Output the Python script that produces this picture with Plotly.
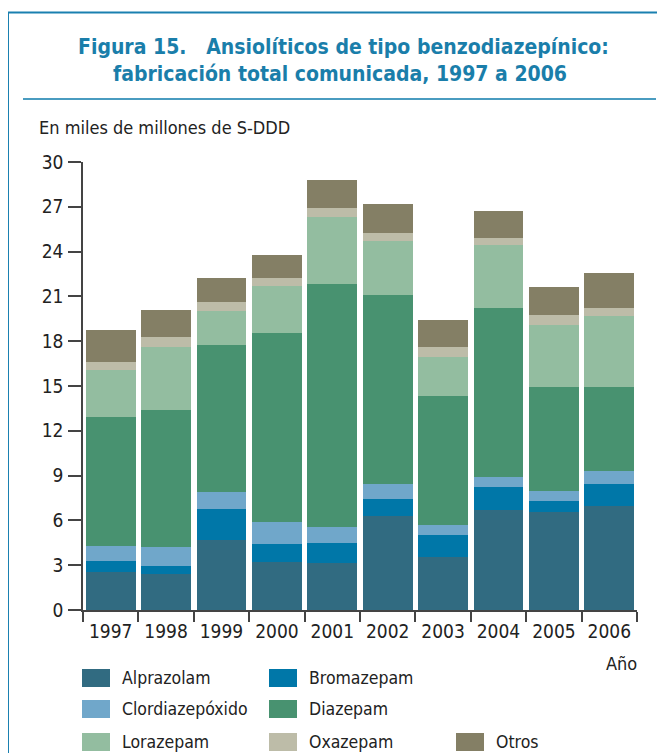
import plotly.graph_objects as go

years = ["1997", "1998", "1999", "2000", "2001", "2002", "2003", "2004", "2005", "2006"]
series_names = ["Alprazolam", "Bromazepam", "Clordiazepóxido", "Diazepam", "Lorazepam", "Oxazepam", "Otros"]
alprazolam = [2.55, 2.39, 4.69, 3.21, 3.12, 6.32, 3.55, 6.72, 6.59, 6.99]
bromazepam = [0.73, 0.56, 2.07, 1.21, 1.37, 1.11, 1.47, 1.52, 0.71, 1.45]
clordiazepoxido = [1.01, 1.27, 1.14, 1.47, 1.07, 1.01, 0.67, 0.67, 0.67, 0.87]
diazepam = [8.64, 9.18, 9.85, 12.66, 16.28, 12.66, 8.64, 11.32, 6.97, 5.63]
lorazepam = [3.14, 4.20, 2.25, 3.15, 4.48, 3.62, 2.62, 4.22, 4.15, 4.75]
oxazepam = [0.53, 0.68, 0.63, 0.54, 0.60, 0.53, 0.67, 0.47, 0.67, 0.54]
otros = [2.15, 1.81, 1.61, 1.54, 1.88, 1.94, 1.80, 1.80, 1.87, 2.34]
y_ticks = [0, 3, 6, 9, 12, 15, 18, 21, 24, 27, 30]

series_values = [alprazolam, bromazepam, clordiazepoxido, diazepam, lorazepam, oxazepam, otros]
colors = ["#316B81", "#0077A8", "#70A7CA", "#489270", "#93BDA0", "#BDBCA8", "#847F65"]

# page body has an 8px margin, so the figure is sized/offset to fill the 665x753 window
OFF = 8
W, H = 665 - OFF, 753 - OFF
# plot area in window pixels
SX0, SX1, SY0, SY1 = 83, 637, 162, 610
L, R, T, B = SX0 - OFF, W - (SX1 - OFF), SY0 - OFF, H - (SY1 - OFF)
PW, PH = SX1 - SX0, SY1 - SY0

def px_x(x):
    return (x - SX0) / PW

def px_y(y):
    return (SY1 - y) / PH

NARROW = "Liberation Sans Narrow, DejaVu Sans Condensed, Arial Narrow, sans-serif"
TITLE_C = "#1A7EAA"
TXT = "#222222"

fig = go.Figure()
for name, vals, col in zip(series_names, series_values, colors):
    fig.add_trace(go.Bar(x=years, y=vals, name=name, marker=dict(color=col, line=dict(width=0)),
                         showlegend=False))

shapes = []
ann = []
# frame
line_c = "#1A80B0"
shapes.append(dict(type="line", xref="paper", yref="paper", x0=px_x(8), x1=px_x(8), y0=px_y(12), y1=px_y(760),
                   line=dict(color=line_c, width=2)))
shapes.append(dict(type="line", xref="paper", yref="paper", x0=px_x(8), x1=px_x(670), y0=px_y(12.5), y1=px_y(12.5),
                   line=dict(color=line_c, width=2)))
shapes.append(dict(type="line", xref="paper", yref="paper", x0=px_x(23), x1=px_x(656), y0=px_y(99), y1=px_y(99),
                   line=dict(color="#4A9CC0", width=2)))

# title
ann.append(dict(text="<b>Figura 15.   Ansiolíticos de tipo benzodiazepínico:</b>", x=px_x(343), y=px_y(47),
                xref="paper", yref="paper", showarrow=False, xanchor="center", yanchor="middle",
                font=dict(family=NARROW, size=21, color=TITLE_C)))
ann.append(dict(text="<b>fabricación total comunicada, 1997 a 2006</b>", x=px_x(340), y=px_y(74),
                xref="paper", yref="paper", showarrow=False, xanchor="center", yanchor="middle",
                font=dict(family=NARROW, size=21, color=TITLE_C)))
# y unit
ann.append(dict(text="En miles de millones de S-DDD", x=px_x(37), y=px_y(128), xref="paper", yref="paper",
                showarrow=False, xanchor="left", yanchor="middle", font=dict(family=NARROW, size=18, color=TXT)))
# x title
ann.append(dict(text="Año", x=px_x(639), y=px_y(663), xref="paper", yref="paper",
                showarrow=False, xanchor="right", yanchor="middle", font=dict(family=NARROW, size=18, color=TXT)))

# legend (custom)
cols_x = [82, 269, 456]
rows_y = [678, 709, 742]
positions = [(0, 0), (1, 0), (0, 1), (1, 1), (0, 2), (1, 2), (2, 2)]
for name, col, (ci, ri) in zip(series_names, colors, positions):
    x0 = cols_x[ci]
    yc = rows_y[ri]
    shapes.append(dict(type="rect", xref="paper", yref="paper", x0=px_x(x0), x1=px_x(x0 + 28),
                       y0=px_y(yc - 9), y1=px_y(yc + 9), fillcolor=col, line=dict(width=0)))
    ann.append(dict(text=name, x=px_x(x0 + 38), y=px_y(yc), xref="paper", yref="paper", showarrow=False,
                    xanchor="left", yanchor="middle", font=dict(family=NARROW, size=17.5, color=TXT)))

fig.update_layout(
    width=W, height=H, margin=dict(l=L, r=R, t=T, b=B, pad=0),
    barmode="stack", bargap=0.1,
    plot_bgcolor="white", paper_bgcolor="white",
    shapes=shapes, annotations=ann, showlegend=False,
    xaxis=dict(type="category", tickson="boundaries", ticks="outside", ticklen=10, tickwidth=1.5,
               tickcolor="#444", showline=True, linecolor="#444", linewidth=1.5, showgrid=False,
               ticklabelstandoff=3,
               tickfont=dict(family=NARROW, size=19, color=TXT), range=[-0.5, 9.5]),
    yaxis=dict(range=[0, 30], tickvals=y_ticks, ticks="outside", ticklen=13, tickwidth=1.5, tickcolor="#444",
               showline=True, linecolor="#444", linewidth=1.5, showgrid=False, zeroline=False,
               ticklabelstandoff=1,
               tickfont=dict(family=NARROW, size=19, color=TXT)),
)
fig.write_html("out.html")
